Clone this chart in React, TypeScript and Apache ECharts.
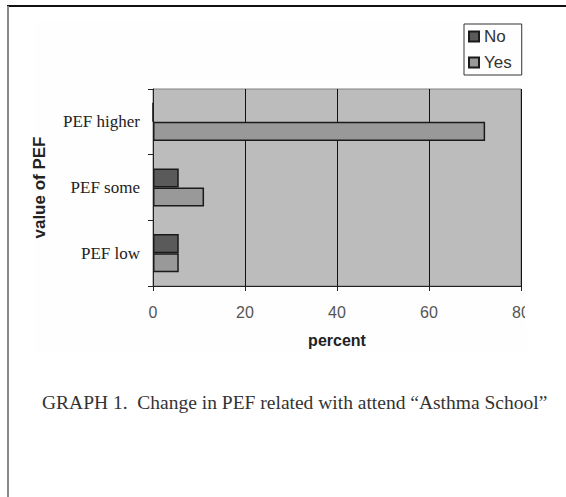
import React, { useEffect, useRef } from "react";
import * as echarts from "echarts";

const categories = ["PEF low", "PEF some", "PEF higher"];
const noValues = [5.6, 5.6, 0];
const yesValues = [5.6, 11.1, 72.2];
const xTicks = { min: 0, max: 80, interval: 20 };
const caption = "GRAPH 1.  Change in PEF related with attend \u201CAsthma School\u201D";

export default function App() {
  const ref = useRef<HTMLDivElement>(null);
  useEffect(() => {
    if (!ref.current) return;
    const chart = echarts.init(ref.current, undefined, { renderer: "svg" });
    chart.setOption({
      animation: false,
      backgroundColor: "#ffffff",
      legend: {
        data: ["No", "Yes"],
        orient: "vertical",
        left: 464,
        top: 24,
        padding: [4, 10, 4, 4],
        itemGap: 9,
        itemWidth: 10,
        itemHeight: 10,
        icon: "rect",
        borderColor: "#333",
        borderWidth: 1,
        textStyle: { fontFamily: "Liberation Sans, Arial", fontSize: 17, color: "#333" },
      },
      grid: {
        left: 153,
        right: 45,
        top: 89,
        bottom: 211,
        show: true,
        backgroundColor: "#bcbcbc",
        borderColor: "#808080",
        borderWidth: 1,
      },
      xAxis: {
        type: "value",
        min: xTicks.min,
        max: xTicks.max,
        interval: xTicks.interval,
        name: "percent",
        nameLocation: "middle",
        nameGap: 46,
        nameTextStyle: { fontFamily: "Liberation Sans, Arial", fontWeight: "bold", fontSize: 16, color: "#222" },
        axisLine: { show: true, lineStyle: { color: "#222", width: 1 } },
        axisTick: { show: true, length: 5, lineStyle: { color: "#222" } },
        axisLabel: { margin: 18, fontFamily: "Liberation Sans, Arial", fontSize: 16, color: "#555" },
        splitLine: { show: true, lineStyle: { color: "#111", width: 1 } },
      },
      yAxis: {
        type: "category",
        data: categories,
        name: "value of PEF",
        nameLocation: "middle",
        nameGap: 105,
        nameTextStyle: { fontFamily: "Liberation Sans, Arial", fontWeight: "bold", fontSize: 17, color: "#222" },
        axisLine: { show: true, lineStyle: { color: "#222", width: 1 } },
        axisTick: { show: true, length: 5, lineStyle: { color: "#222" } },
        axisLabel: { margin: 13, fontFamily: "Liberation Serif, Times New Roman, serif", fontSize: 17, color: "#222" },
      },
      series: [
        {
          name: "No",
          type: "bar",
          data: noValues,
          barGap: "0%",
          barCategoryGap: "42%",
          itemStyle: { color: "#5a5a5a", borderColor: "#1a1a1a", borderWidth: 1.5 },
        },
        {
          name: "Yes",
          type: "bar",
          data: yesValues,
          barGap: "0%",
          barCategoryGap: "42%",
          itemStyle: { color: "#999999", borderColor: "#1a1a1a", borderWidth: 1.5 },
        },
      ],
      graphic: [
        { type: "rect", z: -10, shape: { x: 34, y: 22, width: 493, height: 331 }, style: { fill: "#fefefe" } },
        { type: "line", shape: { x1: 7, y1: 6, x2: 566, y2: 6 }, style: { stroke: "#111", lineWidth: 2 } },
        { type: "line", shape: { x1: 8, y1: 6, x2: 8, y2: 497 }, style: { stroke: "#888", lineWidth: 2 } },
        { type: "rect", z: 100, shape: { x: 525, y: 300, width: 30, height: 26 }, style: { fill: "#ffffff" } },
        {
          type: "text",
          left: 42,
          top: 392,
          style: { text: caption, fontFamily: "Liberation Serif, Times New Roman, serif", fontSize: 19.5, fill: "#333" },
        },
      ],
    });
    return () => chart.dispose();
  }, []);
  return <div ref={ref} style={{ position: "fixed", left: 0, top: 0, width: 566, height: 497 }} />;
}
